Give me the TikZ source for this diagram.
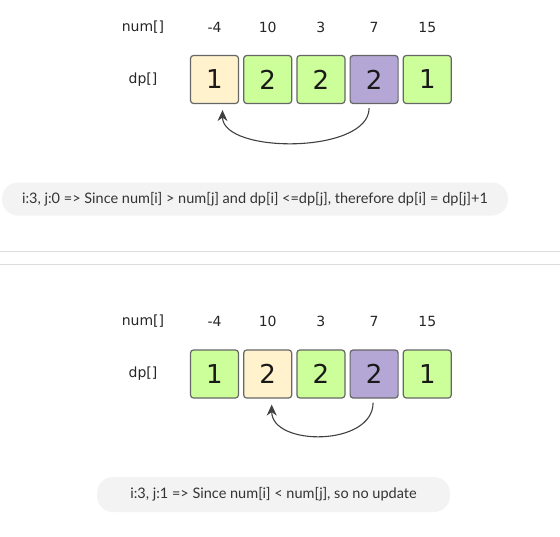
\documentclass[tikz,border=0pt]{standalone}
\usepackage{fontspec}
\setmainfont{DejaVu Sans}
\newfontfamily\capfont{Lato}
\usetikzlibrary{positioning, arrows.meta}

\definecolor{cellgreen}{HTML}{CCFF99}
\definecolor{cellyellow}{HTML}{FFF2CC}
\definecolor{cellpurple}{HTML}{B4A7D6}
\definecolor{cellline}{HTML}{666666}
\definecolor{pillgray}{HTML}{F3F3F3}
\definecolor{rulegray}{HTML}{DDDDDD}

\tikzset{
  cell/.style={draw=cellline, line width=1.2pt, rounded corners=3pt, minimum size=48pt,
    inner sep=0pt, font=\fontsize{26}{26}\selectfont, text=black!90},
  lbl/.style={font=\fontsize{14}{16}\selectfont, text=black!85},
  pill/.style={fill=pillgray, rounded corners=16pt, minimum height=33pt, inner sep=0pt,
    font=\capfont\fontsize{14.5}{16}\selectfont, text=black!80},
  jump/.style={-{Stealth[length=11pt, width=10pt]}, draw=black!75, line width=1.1pt}
}

\begin{document}
\begin{tikzpicture}[x=1pt, y=-1pt, node distance=4pt]
  \useasboundingbox (0,0) rectangle (560,536);

  % first step: i=3, j=0
  \node[cell, fill=cellyellow] (a1) at (214.5,79.5) {1};
  \node[cell, fill=cellgreen, right=of a1] (a2) {2};
  \node[cell, fill=cellgreen, right=of a2] (a3) {2};
  \node[cell, fill=cellpurple, right=of a3] (a4) {2};
  \node[cell, fill=cellgreen, right=of a4] (a5) {1};
  \node[lbl] (adp) at (143,80) {dp[]};
  \node[lbl] (anum) at (143,27) {num[]};
  \foreach \v [count=\k] in {-4,10,3,7,15}
    \node[lbl] (av\k) at (a\k.center |- anum) {\v};
  \draw[jump] ([xshift=-5pt, yshift=-4pt]a4.south)
    .. controls +(0,46) and +(0,44) .. ([xshift=8pt, yshift=-6pt]a1.south);
  \node[pill, minimum width=506pt] (acap) at (255,199)
    {i:3, j:0 => Since num[i] > num[j] and dp[i] <=dp[j], therefore dp[i] = dp[j]+1};

  % separator
  \draw[rulegray, line width=1pt] (0,251.5) -- (560,251.5);
  \draw[rulegray, line width=1pt] (0,264.5) -- (560,264.5);

  % second step: i=3, j=1
  \node[cell, fill=cellgreen] (b1) at (214.5,374) {1};
  \node[cell, fill=cellyellow, right=of b1] (b2) {2};
  \node[cell, fill=cellgreen, right=of b2] (b3) {2};
  \node[cell, fill=cellpurple, right=of b3] (b4) {2};
  \node[cell, fill=cellgreen, right=of b4] (b5) {1};
  \node[lbl] (bdp) at (143,374) {dp[]};
  \node[lbl] (bnum) at (143,321) {num[]};
  \foreach \v [count=\k] in {-4,10,3,7,15}
    \node[lbl] (bv\k) at (b\k.center |- bnum) {\v};
  \draw[jump] ([xshift=-1pt, yshift=-4pt]b4.south)
    .. controls +(0,44) and +(0,42) .. ([xshift=4pt, yshift=-6pt]b2.south);
  \node[pill, minimum width=353pt, minimum height=35pt] (bcap) at (273.5,494.5)
    {i:3, j:1 => Since num[i] < num[j], so no update};
\end{tikzpicture}
\end{document}
